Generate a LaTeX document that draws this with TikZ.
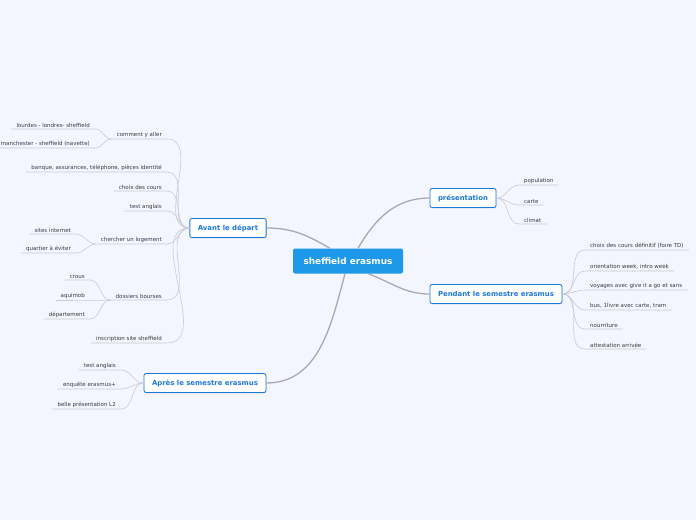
\documentclass[tikz,border=0pt]{standalone}
\usepackage{fontspec}
\setmainfont{DejaVu Sans}
\usetikzlibrary{positioning, shadows}

\definecolor{bgblue}{HTML}{F3F6FE}
\definecolor{rootblue}{HTML}{1E98E8}
\definecolor{topicblue}{HTML}{1C78DC}
\definecolor{branchgrey}{HTML}{A9A9B1}
\definecolor{twiggrey}{HTML}{CACAD2}
\definecolor{leaftext}{HTML}{3A3A3A}

\tikzset{
  rootbox/.style={fill=rootblue, text=white, rounded corners=2pt,
    font=\fontsize{8.9}{10}\selectfont\bfseries, minimum width=110pt, minimum height=25pt},
  topicbox/.style={draw=topicblue, fill=white, text=topicblue, rounded corners=2pt,
    line width=0.8pt, font=\fontsize{6.9}{8}\selectfont\bfseries,
    inner xsep=8pt, minimum height=19pt,
    drop shadow={shadow xshift=0.4pt, shadow yshift=-0.8pt, opacity=0.3}},
  leaf/.style={text=leaftext, font=\fontsize{5.5}{6.5}\selectfont, inner xsep=5pt, inner ysep=1.6pt},
  lleaf/.style={leaf, anchor=south east},
  rleaf/.style={leaf, anchor=south west},
  branch/.style={draw=branchgrey, line width=1.3pt},
  twig/.style={draw=twiggrey, line width=0.6pt},
}

\begin{document}
\begin{tikzpicture}[x=1pt, y=-1pt]
  \fill[bgblue] (0,0) rectangle (696,520);
  \useasboundingbox (0,0) rectangle (696,520);

  % centre and main topics
  \node[rootbox]  (root)   at (348,261) {sheffield erasmus};
  \node[topicbox] (avant)  at (228,228) {Avant le départ};
  \node[topicbox] (pres)   at (463,198) {présentation};
  \node[topicbox] (pend)   at (496,294) {Pendant le semestre erasmus};
  \node[topicbox] (apres)  at (205,383) {Après le semestre erasmus};

  \draw[branch] ([xshift=-18pt]root.north) to[out=150, in=0] (avant.east);
  \draw[branch] ([xshift=10pt]root.north) to[out=60, in=180] (pres.west);
  \draw[branch] ([xshift=20pt]root.south) to[out=-20, in=180] (pend.west);
  \draw[branch] ([xshift=-3pt]root.south) to[out=-105, in=0] (apres.east);

  % avant le depart
  \node[lleaf] (a1) at (167,139) {comment y aller};
  \node[lleaf] (a2) at (167,172) {banque, assurances, téléphone, pièces identité};
  \node[lleaf] (a3) at (167,191) {choix des cours};
  \node[lleaf] (a4) at (167,211) {test anglais};
  \node[lleaf] (a5) at (167,244) {chercher un logement};
  \node[lleaf] (a6) at (167,300) {dossiers bourses};
  \node[lleaf] (a7) at (167,343) {inscription site sheffield};
  \foreach \n in {a1,a2,a3,a4,a5,a6,a7}
    \draw[twig] (\n.south west) -- (\n.south east) to[out=0, in=180] (avant.west);

  \node[lleaf] (a11) at (95,129) {lourdes - londres- sheffield};
  \node[lleaf] (a12) at (95,148) {manchester - sheffield (navette)};
  \node[lleaf] (a51) at (76,234) {sites internet};
  \node[lleaf] (a52) at (76,253) {quartier à éviter};
  \node[lleaf] (a61) at (90,280) {crous};
  \node[lleaf] (a62) at (90,300) {aquimob};
  \node[lleaf] (a63) at (90,319) {département};
  \foreach \n/\p in {a11/a1, a12/a1, a51/a5, a52/a5, a61/a6, a62/a6, a63/a6}
    \draw[twig] (\n.south west) -- (\n.south east) to[out=0, in=180] (\p.south west);

  % presentation
  \node[rleaf] (p1) at (519,185) {population};
  \node[rleaf] (p2) at (519,205) {carte};
  \node[rleaf] (p3) at (519,224) {climat};
  \foreach \n in {p1,p2,p3}
    \draw[twig] (pres.east) to[out=0, in=180] (\n.south west) -- (\n.south east);

  % pendant le semestre
  \node[rleaf] (s1) at (585,250) {choix des cours définitif (foire TD)};
  \node[rleaf] (s2) at (585,271) {orientation week, intro week};
  \node[rleaf] (s3) at (585,290) {voyages avec give it a go et sans};
  \node[rleaf] (s4) at (585,310) {bus, 1livre avec carte, tram};
  \node[rleaf] (s5) at (585,329) {nourriture};
  \node[rleaf] (s6) at (585,349) {attestation arrivée};
  \foreach \n in {s1,s2,s3,s4,s5,s6}
    \draw[twig] (pend.east) to[out=0, in=180] (\n.south west) -- (\n.south east);

  % apres le semestre
  \node[lleaf] (r1) at (121,370) {test anglais};
  \node[lleaf] (r2) at (121,389) {enquête erasmus+};
  \node[lleaf] (r3) at (121,409) {belle présentation L2};
  \foreach \n in {r1,r2,r3}
    \draw[twig] (\n.south west) -- (\n.south east) to[out=0, in=180] (apres.west);
\end{tikzpicture}
\end{document}
